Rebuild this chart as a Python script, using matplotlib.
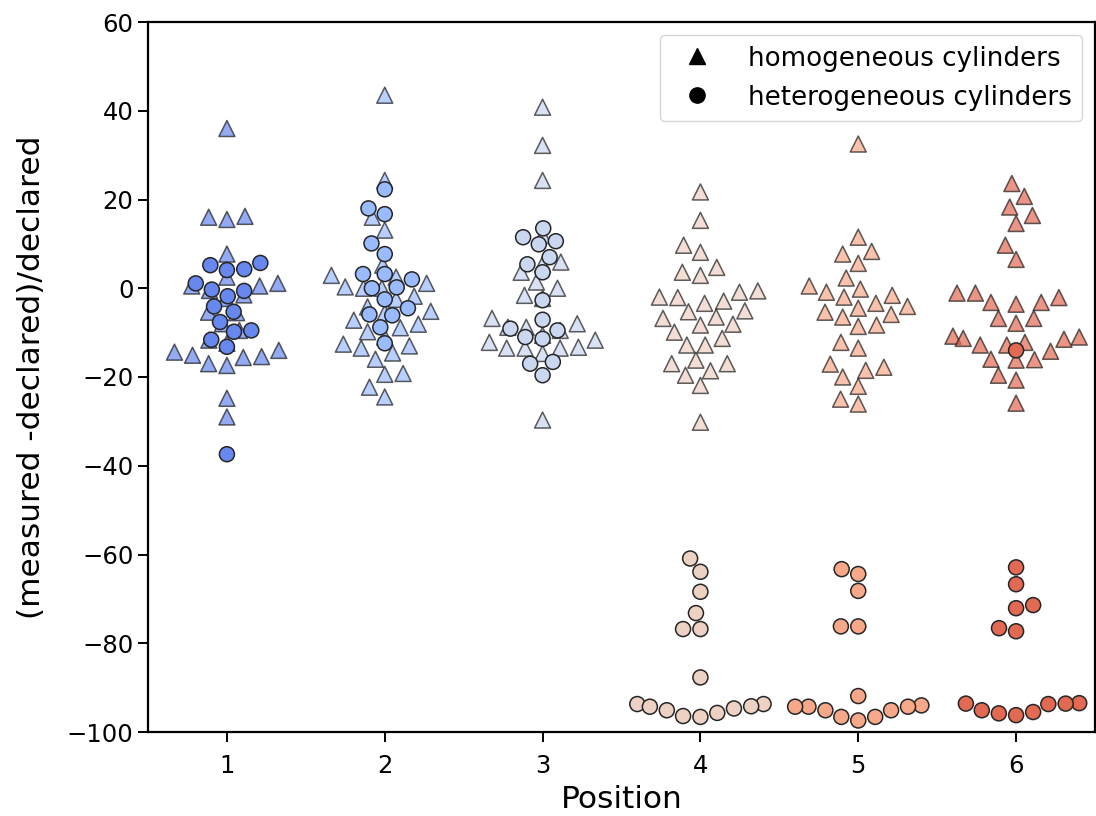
import matplotlib
matplotlib.use("Agg")
import matplotlib.pyplot as plt
from matplotlib.lines import Line2D
import pandas as pd
import seaborn as sns

positions = [1, 2, 3, 4, 5, 6]

homog_1 = [36.0, 16.0, 15.5, 16.2, 7.7, 2.5, 1.1, 0.5, 0.5, -0.5, -1.5, -2.3, -5.4, -5.5, -8.0, -9.5,
           -12.4, -11.7, -14.0, -14.4, -15.1, -15.4, -15.6, -17.0, -17.4, -24.8, -29.0]
heterog_1 = [5.2, 4.1, 4.3, 5.7, 1.1, -0.3, -0.6, -1.8, -4.1, -5.3, -7.6, -9.5, -9.8, -11.6, -13.2, -37.4]

homog_2 = [43.5, 24.3, 16.0, 13.1, 5.2, 2.9, 2.5, 1.1, 0.3, 0.0, 0.0, -1.8, -2.5, -4.2, -5.2, -5.6, -7.2,
           -8.1, -8.9, -9.8, -11.0, -12.6, -13.0, -13.5, -14.6, -16.0, -19.2, -19.4, -22.3, -24.5]
heterog_2 = [22.3, 18.0, 16.7, 10.1, 7.7, 3.2, 3.2, 2.0, 0.2, 0.0, -2.5, -4.5, -5.9, -6.1, -8.8, -12.4]

homog_3 = [40.8, 32.2, 24.3, 11.9, 5.9, 5.4, 3.6, 1.4, 0.0, -1.6, -2.3, -6.8, -8.0, -8.8, -8.8, -9.5,
           -10.6, -11.7, -12.2, -13.3, -13.5, -13.5, -13.5, -14.7, -29.7]
heterog_3 = [13.5, 11.5, 10.6, 9.9, 7.0, 5.4, 3.6, -2.7, -7.1, -9.1, -9.5, -11.0, -11.4, -16.6, -17.0, -19.6]

homog_4 = [21.7, 15.3, 9.7, 8.1, 4.7, 3.6, 2.9, -0.6, -0.9, -2.0, -2.1, -2.9, -3.4, -5.1, -5.3, -6.5,
           -6.8, -8.1, -8.3, -9.9, -11.3, -12.8, -12.8, -16.2, -17.0, -17.0, -18.6, -19.6, -21.9, -30.2]
heterog_4 = [-60.9, -63.9, -68.4, -73.2, -76.8, -76.8, -87.7, -93.7, -93.7, -94.2, -94.3, -94.7, -95.1,
             -95.7, -96.4, -96.6]

homog_5 = [32.5, 11.5, 8.3, 7.7, 5.6, 2.3, 0.5, -0.2, -0.9, -1.6, -2.0, -3.4, -4.1, -4.5, -5.4, -5.9,
           -6.5, -8.3, -8.6, -12.2, -13.5, -17.1, -17.8, -18.5, -20.0, -22.1, -25.0, -26.1]
heterog_5 = [-63.3, -64.4, -68.2, -76.2, -76.2, -91.9, -94.0, -94.3, -94.3, -94.3, -95.1, -95.1, -96.6,
             -96.6, -97.4]

homog_6 = [23.6, 20.7, 18.3, 16.4, 14.6, 9.7, 6.5, -1.1, -1.1, -2.1, -3.2, -3.2, -3.6, -6.8, -6.8, -7.9,
           -10.8, -11.0, -11.3, -11.5, -12.2, -12.8, -12.8, -14.2, -16.0, -16.1, -16.2, -19.6, -20.7, -25.9]
heterog_6 = [-14.0, -62.9, -66.7, -71.4, -72.1, -76.6, -77.3, -93.5, -93.6, -93.6, -93.7, -95.1, -95.5,
             -95.8, -96.2]

homog = [homog_1, homog_2, homog_3, homog_4, homog_5, homog_6]
heterog = [heterog_1, heterog_2, heterog_3, heterog_4, heterog_5, heterog_6]

legend_labels = ["homogeneous cylinders", "heterogeneous cylinders"]
x_label = "Position"
y_label = "(measured -declared)/declared"


def to_frame(groups):
    rows = []
    for p, vals in zip(positions, groups):
        for v in vals:
            rows.append({"Position": p, "value": v})
    return pd.DataFrame(rows)


df_hom = to_frame(homog)
df_het = to_frame(heterog)

palette = sns.color_palette("coolwarm", len(positions))

fig = plt.figure(figsize=(10.96, 8.16), dpi=100)
ax = fig.add_axes([148 / 1096, 84 / 816, (1095 - 148) / 1096, (732 - 22) / 816])

sns.swarmplot(data=df_hom, x="Position", y="value", hue="Position", palette=palette,
              order=positions, hue_order=positions, marker="^", size=11.5,
              edgecolor="0.1", linewidth=1.1, alpha=0.7, legend=False, ax=ax)
sns.swarmplot(data=df_het, x="Position", y="value", hue="Position", palette=palette,
              order=positions, hue_order=positions, marker="o", size=10.8,
              edgecolor="0.15", linewidth=1.1, legend=False, ax=ax)

ax.set_xlim(-0.5, 5.5)
ax.set_ylim(-100, 60)
ax.set_yticks(range(-100, 61, 20))
ax.set_xlabel(x_label, fontsize=22.5, labelpad=5)
ax.set_ylabel(y_label, fontsize=22.5, labelpad=15)
ax.tick_params(labelsize=17.5, length=7, width=1.4)
ax.tick_params(axis="x", pad=9)
for s in ax.spines.values():
    s.set_linewidth(1.6)

handles = [Line2D([], [], marker="^", color="k", linestyle="none", markersize=11),
           Line2D([], [], marker="o", color="k", linestyle="none", markersize=11)]
ax.legend(handles, legend_labels, loc="upper right", fontsize=18.8, handletextpad=0.95,
          borderaxespad=0.5, framealpha=0.8)

fig.savefig("out.png", dpi=100)
